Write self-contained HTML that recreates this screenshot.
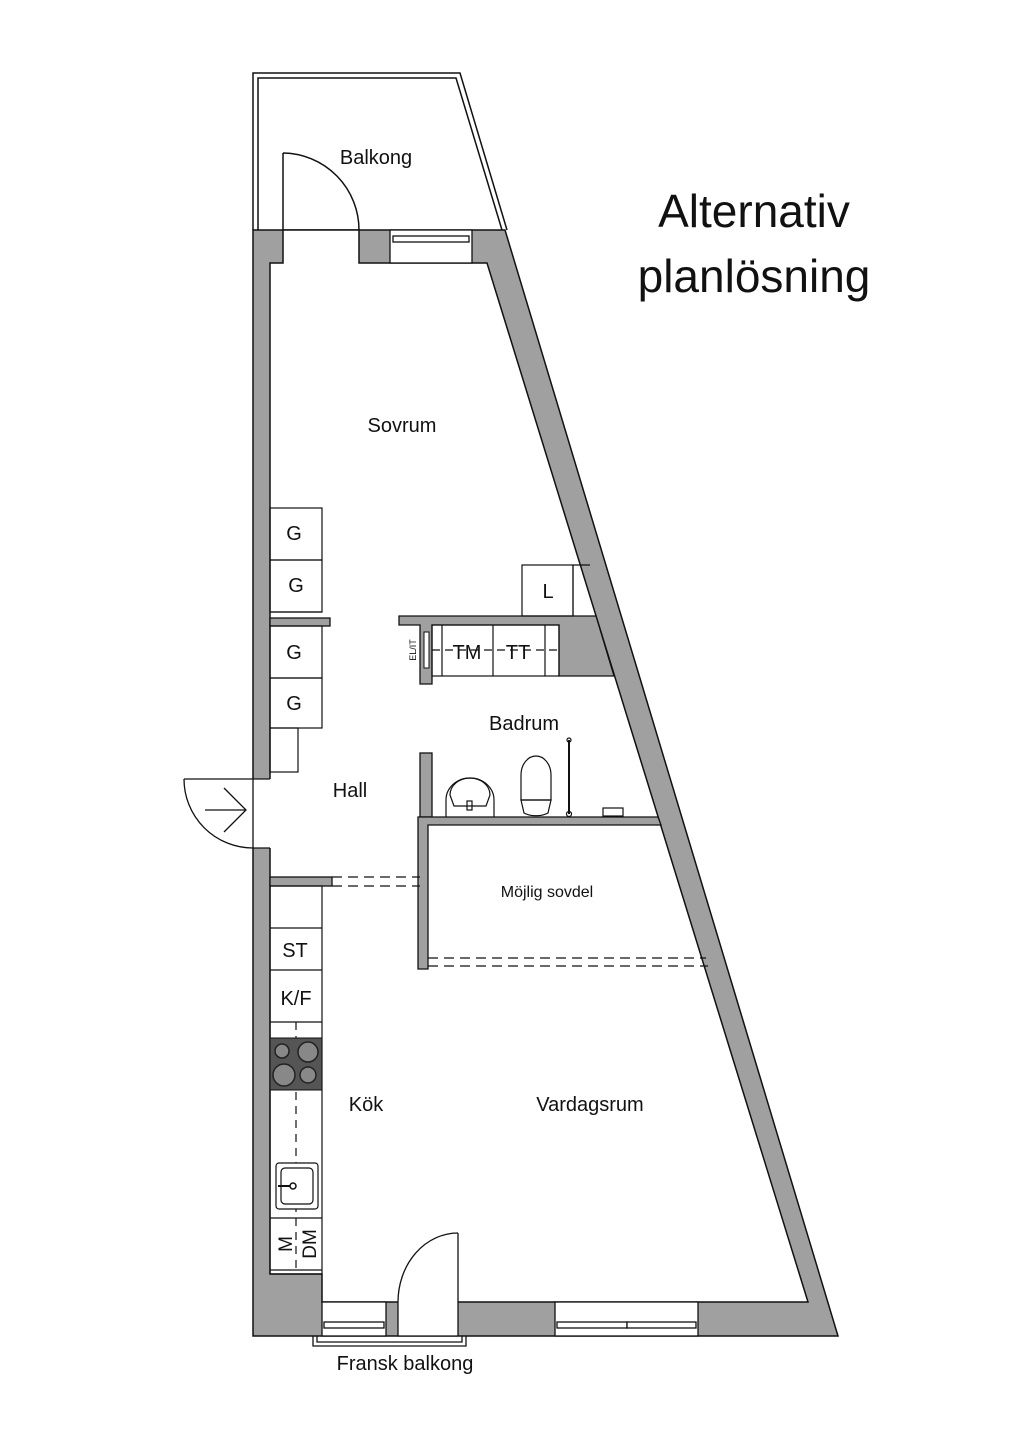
<!DOCTYPE html>
<html><head><meta charset="utf-8"><style>
html,body{margin:0;padding:0;background:#fff;}
svg{display:block;}
text{font-family:"Liberation Sans",sans-serif;fill:#111;}
</style></head><body>
<svg width="1024" height="1448" viewBox="0 0 1024 1448" xmlns="http://www.w3.org/2000/svg">
<rect width="1024" height="1448" fill="#fff"/>
<g stroke="#111" stroke-width="1.5" fill="none">
<polyline points="253,230 253,73 460,73 507,230"/>
<polyline points="258,230 258,78 456,78 502,230"/>
<line x1="283" y1="230" x2="283" y2="153"/>
<path d="M283,153 A77,77 0 0 1 359,230"/>
</g>
<polygon points="253,230 505,230 838,1336 253,1336" fill="#a0a0a0" stroke="#111" stroke-width="1.5"/>
<polygon points="270,263 283,263 283,230 359,230 359,263 487,263 808,1302 322,1302 322,1274 270,1274" fill="#fff" stroke="#111" stroke-width="1.5"/>
<g fill="#fff" stroke="#111" stroke-width="1.3">
<rect x="390" y="230" width="82" height="33"/>
<rect x="393" y="236" width="76" height="6"/>
<rect x="251" y="779" width="21" height="69" stroke="none"/>
<rect x="322" y="1302" width="64" height="34"/>
<rect x="324" y="1322" width="60" height="6"/>
<rect x="398" y="1299" width="60" height="37" stroke="none"/>
<rect x="555" y="1302" width="143" height="34"/>
<rect x="557" y="1322" width="70" height="6"/>
<rect x="627" y="1322" width="69" height="6"/>
</g>
<g stroke="#111" stroke-width="1.3" fill="none">
<line x1="253" y1="779" x2="270" y2="779"/><line x1="253" y1="848" x2="270" y2="848"/>
<line x1="253" y1="779" x2="253" y2="848"/>
<line x1="184" y1="779" x2="253" y2="779"/>
<path d="M184,779 A69,69 0 0 0 253,848"/>
<line x1="205" y1="810" x2="246" y2="810"/>
<polyline points="224,788 246,810 224,832"/>
<line x1="458" y1="1233" x2="458" y2="1336"/>
<line x1="398" y1="1302" x2="398" y2="1336"/>
<line x1="398" y1="1336" x2="458" y2="1336"/>
<path d="M458,1233 A60,69 0 0 0 398,1302"/>
<polyline points="313,1336 313,1346 466,1346 466,1336"/>
<polyline points="317,1336 317,1342 462,1342 462,1336"/>
</g>
<g fill="#a0a0a0" stroke="#111" stroke-width="1.3">
<rect x="270" y="618" width="60" height="8"/>
<rect x="270" y="877" width="62" height="9"/>
<polygon points="399,616 596,616 614,676 559,676 559,625 432,625 432,684 420,684 420,625 399,625"/>
<rect x="420" y="753" width="12" height="64"/>
<polygon points="418,817 658,817 661,825 428,825 428,969 418,969"/>
</g>
<rect x="424" y="632" width="5" height="36" fill="#fff" stroke="#111" stroke-width="1"/>
<g fill="none" stroke="#111" stroke-width="1.2">
<rect x="270" y="508" width="52" height="52"/><rect x="270" y="560" width="52" height="52"/>
<line x1="270" y1="612" x2="322" y2="612"/>
<rect x="270" y="626" width="52" height="52"/><rect x="270" y="678" width="52" height="50"/>
<rect x="270" y="728" width="28" height="44"/>
<rect x="522" y="565" width="51" height="51"/><line x1="573" y1="565" x2="590" y2="565"/><line x1="573" y1="565" x2="573" y2="616"/>
<rect x="432" y="625" width="127" height="51"/>
<line x1="442" y1="625" x2="442" y2="676"/><line x1="493" y1="625" x2="493" y2="676"/><line x1="545" y1="625" x2="545" y2="676"/>
<line x1="432" y1="650" x2="559" y2="650" stroke-dasharray="8,5"/>
<rect x="270" y="886" width="52" height="388"/>
<line x1="270" y1="928" x2="322" y2="928"/><line x1="270" y1="970" x2="322" y2="970"/>
<line x1="270" y1="1022" x2="322" y2="1022"/><line x1="270" y1="1218" x2="322" y2="1218"/>
<line x1="270" y1="1270" x2="322" y2="1270"/>
<line x1="296" y1="1022" x2="296" y2="1270" stroke-dasharray="8,6"/>
<rect x="276" y="1163" width="42" height="46" rx="3" fill="#fff"/>
<rect x="281" y="1168" width="32" height="36" rx="4"/>
<line x1="332" y1="877" x2="420" y2="877" stroke-dasharray="10,6"/>
<line x1="332" y1="886" x2="420" y2="886" stroke-dasharray="10,6"/>
<line x1="428" y1="958" x2="706" y2="958" stroke-dasharray="10,6"/>
<line x1="428" y1="966" x2="708" y2="966" stroke-dasharray="10,6"/>
<path d="M446,817 L446,800 A24,22 0 0 1 494,800 L494,817"/>
<path d="M450,795 A20,17 0 0 1 490,795 L486,806 L454,806 Z"/>
<rect x="467" y="801" width="5" height="9"/>
<path d="M521,800 L521,775 A15,19 0 0 1 551,775 L551,800 Z"/>
<path d="M521,800 L551,800 L548,813 A16,8 0 0 1 524,813 Z"/>
<line x1="569" y1="740" x2="569" y2="814" stroke-width="2"/>
<circle cx="569" cy="740" r="2"/><circle cx="569" cy="814" r="2.5"/>
<rect x="603" y="808" width="20" height="8"/>
</g>
<rect x="270" y="1038" width="52" height="52" fill="#555" stroke="#111"/>
<g fill="#888" stroke="#222" stroke-width="1.5">
<circle cx="282" cy="1051" r="7"/><circle cx="308" cy="1052" r="10"/>
<circle cx="284" cy="1075" r="11"/><circle cx="308" cy="1075" r="8"/>
</g>
<circle cx="293" cy="1186" r="3" fill="none" stroke="#111" stroke-width="1.5"/>
<line x1="278" y1="1186" x2="290" y2="1186" stroke="#111" stroke-width="2"/>
<g font-size="20" text-anchor="middle">
<text x="376" y="164">Balkong</text>
<text x="402" y="432">Sovrum</text>
<text x="294" y="540">G</text><text x="296" y="592">G</text>
<text x="294" y="659">G</text><text x="294" y="710">G</text>
<text x="548" y="598">L</text>
<text x="467" y="659">TM</text><text x="518" y="659">TT</text>
<text x="524" y="730">Badrum</text>
<text x="350" y="797">Hall</text>
<text x="295" y="957">ST</text>
<text x="296" y="1005">K/F</text>
<text x="366" y="1111">Kök</text>
<text x="590" y="1111">Vardagsrum</text>
<text x="405" y="1370">Fransk balkong</text>
</g>
<text x="547" y="897" font-size="16" text-anchor="middle">Möjlig sovdel</text>
<text transform="translate(416,650) rotate(-90)" font-size="9" text-anchor="middle">EL/IT</text>
<text transform="translate(292,1244) rotate(-90)" font-size="19" text-anchor="middle">M</text>
<text transform="translate(316,1244) rotate(-90)" font-size="19" text-anchor="middle">DM</text>
<g font-size="46" text-anchor="middle">
<text x="754" y="227">Alternativ</text>
<text x="754" y="292">planlösning</text>
</g>
</svg>
</body></html>
